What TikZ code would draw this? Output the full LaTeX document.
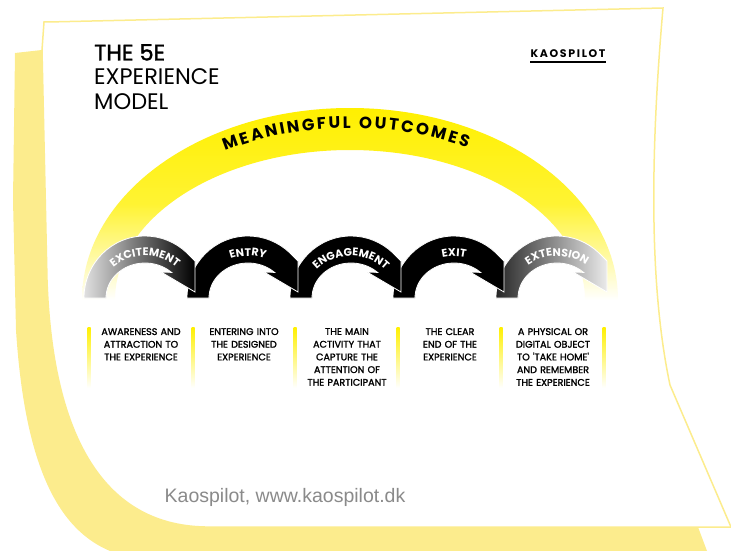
\documentclass[tikz,border=0pt]{standalone}
\usepackage{fontspec}
\setmainfont{Poppins}
\newfontfamily\footfont{Liberation Sans}
\newfontfamily\medfont{Poppins}[FakeBold=1.6]
\newfontfamily\titlefont{Poppins}[FakeBold=1.4]
\usetikzlibrary{decorations.text}
\definecolor{paper}{RGB}{252,236,141}
\definecolor{sun}{RGB}{255,240,0}
\definecolor{footgray}{RGB}{138,138,138}
\newcommand\arrowlab{\color{white}\bfseries\fontsize{11}{11}\selectfont}

\begin{document}
\begin{tikzpicture}[x=1pt,y=1pt,
    fadein/.style={left color=black!12, right color=black},
    blackarrow/.style={fill=black},
    fadeout/.style={left color=black!85, right color=black!8},
    descr/.style={align=center, text width=100pt, inner sep=0pt, anchor=north,
        font=\medfont\fontsize{9.6}{12.7}\selectfont}]
    \useasboundingbox (0,0) rectangle (731,-551);
    % Yellow paper behind
    \fill[paper] (15,-53) -- (42,-50) -- (698,-527) -- (707,-551) -- (110,-551)
        .. controls (60,-530) and (25,-470) .. (16,-330) -- (13,-200) -- cycle;
    % White sheet
    \filldraw[fill=white, draw=paper, line width=1.5pt] (48,-22) -- (663,-8)
        .. controls (648,-180) and (652,-300) .. (670,-385) -- (731,-527) -- (205,-527)
        .. controls (100,-525) and (52,-430) .. (47,-280) -- (42,-50) -- (44,-22) -- cycle;
    % Meaningful outcomes arc
    \shade[top color=sun, bottom color=white, middle color=sun!80]
        (82,-300) arc[start angle=180, end angle=0, x radius=268, y radius=192]
        -- (585,-300) arc[start angle=0, end angle=180, x radius=235, y radius=150] -- cycle;
    \path[decorate, decoration={text along path, text align=fit to path,
        text={|\bfseries\fontsize{16.5}{16.5}\selectfont|MEANINGFUL OUTCOMES}}]
        (350,-300) ++(120:250 and 172) arc[start angle=120, end angle=62, x radius=250, y radius=172];
    % Five arrows, right to left
    \foreach \cx/\lab/\sty in {557/EXTENSION/fadeout, 454/EXIT/blackarrow,
        351/ENGAGEMENT/blackarrow, 248/ENTRY/blackarrow, 145/EXCITEMENT/fadein} {
        \begin{scope}[shift={(\cx,-298)}]
            \path[\sty, draw=white, line width=0.8pt] (180:61 and 62)
                arc[start angle=180, end angle=47, x radius=61, y radius=62]
                -- (50,37) -- (50,6) -- (16,26) -- (47:39 and 35)
                arc[start angle=47, end angle=180, x radius=39, y radius=35] -- cycle;
            \path[decorate, decoration={text along path, text align=center,
                text/.expanded={|\noexpand\arrowlab|\lab}}]
                (175:46 and 42) arc[start angle=175, end angle=5, x radius=46, y radius=42];
        \end{scope}
    }
    % Yellow bars
    \foreach \x in {89,193,295,398,501,604}
        \shade[top color=sun, bottom color=white] (\x-1.5,-327) rectangle (\x+1.5,-388);
    % Descriptions
    \node[descr] (excdesc) at (141,-328) {AWARENESS AND\\ATTRACTION TO\\THE EXPERIENCE};
    \node[descr] (entdesc) at (244,-328) {ENTERING INTO\\THE DESIGNED\\EXPERIENCE};
    \node[descr] (engdesc) at (347,-328) {THE MAIN\\ACTIVITY THAT\\CAPTURE THE\\ATTENTION OF\\THE PARTICIPANT};
    \node[descr] (exidesc) at (450,-328) {THE CLEAR\\END OF THE\\EXPERIENCE};
    \node[descr] (extdesc) at (553,-328) {A PHYSICAL OR\\DIGITAL OBJECT\\TO 'TAKE HOME'\\AND REMEMBER\\THE EXPERIENCE};
    % Title and logo
    \node[anchor=north west, inner sep=0pt, align=left, font=\fontsize{22.5}{24.5}\selectfont]
        (title) at (94,-44) {{\titlefont THE 5E}\\EXPERIENCE\\MODEL};
    \node[inner sep=0pt, font=\bfseries\fontsize{11}{11}\selectfont\addfontfeatures{LetterSpace=15}]
        (logo) at (568,-54) {KAOSPILOT};
    \draw[line width=2pt] ([yshift=-4pt]logo.south west) -- ([yshift=-4pt]logo.south east);
    % Footer
    \node[font=\footfont\fontsize{19.5}{19.5}\selectfont, text=footgray] (site) at (285,-497)
        {Kaospilot, www.kaospilot.dk};
\end{tikzpicture}
\end{document}
